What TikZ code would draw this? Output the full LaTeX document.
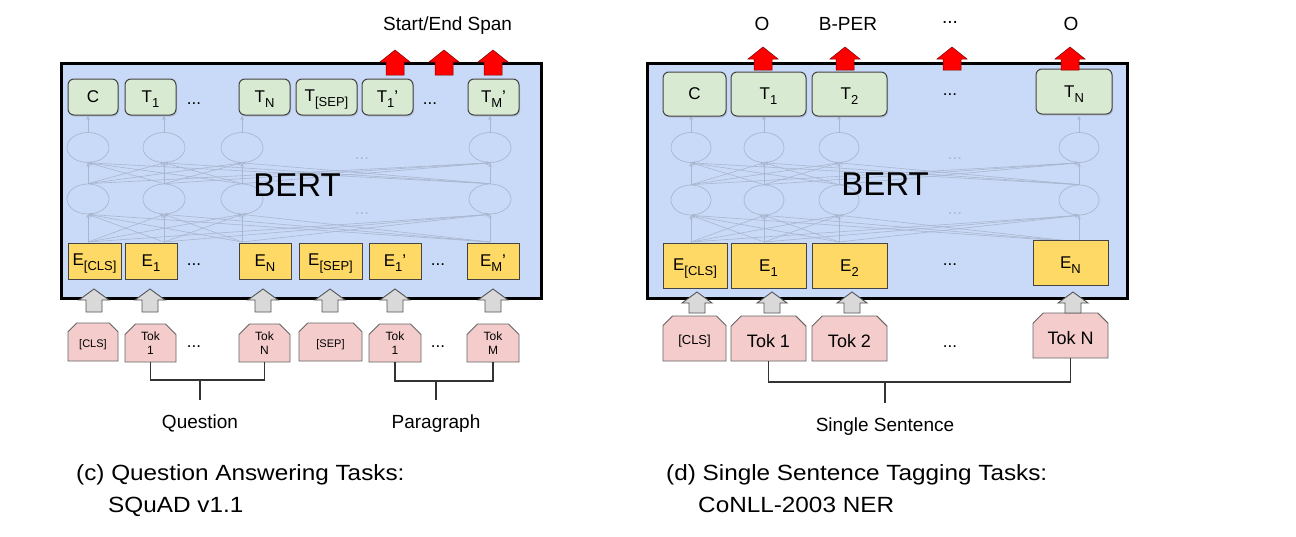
\documentclass[tikz,border=0pt]{standalone}
\usepackage{fontspec}
\setmainfont{Liberation Sans}
\usetikzlibrary{shapes.misc,shapes.geometric,arrows.meta,shadows}
\definecolor{bertblue}{HTML}{C9DAF8}
\definecolor{tgreen}{HTML}{D9EAD3}
\definecolor{eyellow}{HTML}{FFD966}
\definecolor{tpink}{HTML}{F4CCCC}
\definecolor{agray}{HTML}{D9D9D9}
\definecolor{outl}{HTML}{434343}
\definecolor{pinkline}{HTML}{666666}
\definecolor{garline}{HTML}{555555}
\definecolor{faint}{HTML}{A9B6CF}
\definecolor{brline}{HTML}{333333}
\definecolor{darkred}{HTML}{7A0000}
\newcommand\fsz[1]{\fontsize{#1}{#1}\selectfont}
\newcommand\sbs[1]{\raisebox{-5pt}[\height][\depth]{\fsz{13}#1}}
\newcommand\lowtxt[1]{\raisebox{-3pt}[\height][\depth]{#1}}
\newcommand\capt[1]{\scalebox{1.105}[1]{#1}}
\newcommand\uparr[7]{\draw[#1] ({#2-#7},#5) -- ({#2-#7},#4) -- ({#2-#6},#4) -- (#2,#3) -- ({#2+#6},#4) -- ({#2+#7},#4) -- ({#2+#7},#5) -- cycle;}
\tikzset{
  bertbox/.style={draw=black, line width=3pt, fill=bertblue, inner sep=0pt},
  tbox/.style={draw=outl, line width=1pt, fill=tgreen, rounded corners=6pt, inner sep=0pt, font=\fsz{17},
    drop shadow={shadow xshift=1pt, shadow yshift=-1.5pt, opacity=.3}},
  ebox/.style={draw=outl, line width=0.9pt, fill=eyellow, inner sep=0pt, font=\fsz{17}},
  tokbox/.style={chamfered rectangle, chamfered rectangle corners={north west,north east},
    chamfered rectangle xsep=7pt, draw=pinkline, line width=0.9pt, fill=tpink, inner sep=0pt, align=center},
  smalltok/.style={font=\fontsize{12}{14}\selectfont},
  netnode/.style={ellipse, draw=faint, line width=0.7pt, minimum width=42pt, minimum height=30pt, inner sep=0pt},
  netline/.style={draw=faint, line width=0.6pt, -{Stealth[length=4pt,width=3.5pt]}},
  rowdots/.style={font=\fsz{17}, anchor=base},
  faintdots/.style={text=faint, font=\fsz{17}, anchor=base},
  garrow/.style={fill=agray, draw=garline, line width=0.9pt},
  rarrow/.style={fill=red, draw=darkred, line width=0.5pt},
  bracket/.style={draw=brline, line width=1.2pt},
  toplabel/.style={font=\fsz{19}, anchor=base},
  caption/.style={font=\fsz{22}, anchor=base west, inner sep=0pt},
  bertlabel/.style={font=\fsz{33}, anchor=base}
}
\begin{document}
\begin{tikzpicture}[x=1pt,y=-1pt]
\useasboundingbox (0,0) rectangle (1296,536);
\fill[white] (0,0) rectangle (1296,536);

% ================= LEFT PANEL =================
\node[bertbox, minimum width=480pt, minimum height=235pt] (bertL) at (301,180.5) {};
\foreach \c [count=\i] in {88,164,242,490} {
  \node[netnode] (La\i) at (\c,147.5) {};
  \node[netnode] (Lb\i) at (\c,199) {};
  \coordinate (Lc\i) at (\c,242);
  \coordinate (Ld\i) at (\c,116);
}
\foreach \i in {1,...,4} {
  \draw[netline] (La\i.north) -- (Ld\i);
  \foreach \j in {1,...,4} {
    \draw[netline] (Lb\i.north) -- (La\j.south);
    \draw[netline] (Lc\i) -- (Lb\j.south);
  }
}
\node[faintdots] (Lfd1) at (362,159) {...};
\node[faintdots] (Lfd2) at (362,214) {...};
\node[bertlabel] (bertLtext) at (297,196) {BERT};

\node[tbox, minimum width=50pt, minimum height=36pt] (tL0) at (93,97) {C};
\node[tbox, minimum width=51pt, minimum height=36pt] (tL1) at (150.5,97) {T\sbs{1}};
\node[rowdots] (tLd1) at (194,104) {...};
\node[tbox, minimum width=51pt, minimum height=36pt] (tLN) at (264.5,97) {T\sbs{N}};
\node[tbox, minimum width=61pt, minimum height=36pt] (tLS) at (326.5,97) {T\sbs{[SEP]}};
\node[tbox, minimum width=51pt, minimum height=36pt] (tLp1) at (387.5,97) {T\sbs{1}’};
\node[rowdots] (tLd2) at (430,104) {...};
\node[tbox, minimum width=51pt, minimum height=36pt] (tLpM) at (493.5,97) {T\sbs{M}’};

\node[ebox, minimum width=53pt, minimum height=36pt] (eL0) at (94.5,261) {E\sbs{[CLS]}};
\node[ebox, minimum width=52pt, minimum height=36pt] (eL1) at (151,261) {E\sbs{1}};
\node[rowdots] (eLd1) at (194,265) {...};
\node[ebox, minimum width=52pt, minimum height=36pt] (eLN) at (265,261) {E\sbs{N}};
\node[ebox, minimum width=63pt, minimum height=36pt] (eLS) at (330.5,261) {E\sbs{[SEP]}};
\node[ebox, minimum width=52pt, minimum height=36pt] (eLp1) at (395,261) {E\sbs{1}’};
\node[rowdots] (eLd2) at (438,265) {...};
\node[ebox, minimum width=52pt, minimum height=36pt] (eLpM) at (493,261) {E\sbs{M}’};

\node[tokbox, smalltok, minimum width=50pt, minimum height=38pt, font=\fsz{11}] (kL0) at (93,342) {\lowtxt{[CLS]}};
\node[tokbox, smalltok, minimum width=51pt, minimum height=38pt] (kL1) at (150.5,343) {Tok\\1};
\node[rowdots] (kLd1) at (194,347) {...};
\node[tokbox, smalltok, minimum width=51pt, minimum height=38pt] (kLN) at (264.5,343) {Tok\\N};
\node[tokbox, smalltok, minimum width=63pt, minimum height=38pt, font=\fsz{11}] (kLS) at (330.5,342) {\lowtxt{[SEP]}};
\node[tokbox, smalltok, minimum width=52pt, minimum height=38pt] (kLp1) at (395,343) {Tok\\1};
\node[rowdots] (kLd2) at (438,347) {...};
\node[tokbox, smalltok, minimum width=52pt, minimum height=38pt] (kLpM) at (493,343) {Tok\\M};

\foreach \x in {94,150,263,330,395,493} { \uparr{garrow}{\x}{289}{300}{312}{15}{8} }
\foreach \x in {395,444,493} { \uparr{rarrow}{\x}{50}{62}{75}{15}{9} }

\node[toplabel, anchor=base west, inner sep=0pt] (spanlab) at (383,30) {Start/End Span};

\coordinate (qmid) at (200,380);
\coordinate (qstem) at (200,400);
\draw[bracket] (kL1.south) |- (qmid) -| (kLN.south);
\draw[bracket] (qmid) -- (qstem);
\node[toplabel] (question) at (200,428) {Question};

\coordinate (pmid) at (436,381);
\coordinate (pstem) at (436,400);
\draw[bracket] (kLp1.south) |- (pmid) -| (kLpM.south);
\draw[bracket] (pmid) -- (pstem);
\node[toplabel] (paragraph) at (436,428) {Paragraph};

\node[caption] (capc1) at (76,480) {\capt{(c) Question Answering Tasks:}};
\node[caption] (capc2) at (108,512) {\capt{SQuAD v1.1}};

% ================= RIGHT PANEL =================
\node[bertbox, minimum width=480pt, minimum height=235pt] (bertR) at (887,180.5) {};
\foreach \c [count=\i] in {691,764,839,1079} {
  \node[netnode, minimum width=40pt] (Ra\i) at (\c,147.5) {};
  \node[netnode, minimum width=40pt] (Rb\i) at (\c,200) {};
  \coordinate (Rc\i) at (\c,242);
  \coordinate (Rd\i) at (\c,116);
}
\foreach \i in {1,...,4} {
  \draw[netline] (Ra\i.north) -- (Rd\i);
  \foreach \j in {1,...,4} {
    \draw[netline] (Rb\i.north) -- (Ra\j.south);
    \draw[netline] (Rc\i) -- (Rb\j.south);
  }
}
\node[faintdots] (Rfd1) at (955,159) {...};
\node[faintdots] (Rfd2) at (955,214) {...};
\node[bertlabel] (bertRtext) at (885,195) {BERT};

\node[tbox, minimum width=63pt, minimum height=44pt] (tR0) at (694.5,94) {C};
\node[tbox, minimum width=75pt, minimum height=44pt] (tR1) at (768.5,94) {T\sbs{1}};
\node[tbox, minimum width=75pt, minimum height=44pt] (tR2) at (849.5,94) {T\sbs{2}};
\node[rowdots] (tRd) at (950,95) {...};
\node[tbox, minimum width=76pt, minimum height=45pt] (tRN) at (1074,91.5) {T\sbs{N}};

\node[ebox, minimum width=64pt, minimum height=45pt] (eR0) at (695,265.5) {E\sbs{[CLS]}};
\node[ebox, minimum width=75pt, minimum height=45pt] (eR1) at (768.5,265.5) {E\sbs{1}};
\node[ebox, minimum width=75pt, minimum height=45pt] (eR2) at (849.5,265.5) {E\sbs{2}};
\node[rowdots] (eRd) at (950,265) {...};
\node[ebox, minimum width=75pt, minimum height=45pt] (eRN) at (1070.5,262.5) {E\sbs{N}};

\node[tokbox, minimum width=63pt, minimum height=45pt, font=\fsz{13}] (kR0) at (694.5,338.5) {\lowtxt{[CLS]}};
\node[tokbox, minimum width=75pt, minimum height=45pt, font=\fsz{18}] (kR1) at (768.5,338.5) {\lowtxt{Tok 1}};
\node[tokbox, minimum width=75pt, minimum height=45pt, font=\fsz{18}] (kR2) at (849.5,338.5) {\lowtxt{Tok 2}};
\node[rowdots] (kRd) at (950,347) {...};
\node[tokbox, minimum width=75pt, minimum height=45pt, font=\fsz{18}] (kRN) at (1070.5,335.5) {\lowtxt{Tok N}};

\foreach \x in {697,772,852,1073} { \uparr{garrow}{\x}{292}{303}{313}{15}{8} }
\foreach \x in {763,845,952,1070} { \uparr{rarrow}{\x}{47}{59}{70}{15}{9} }

\node[toplabel] (labO1) at (762,30) {O};
\node[toplabel] (labB) at (848,30) {B-PER};
\node[toplabel] (labD) at (950,23) {...};
\node[toplabel] (labO2) at (1071,30) {O};

\coordinate (smid) at (885,382);
\coordinate (sstem) at (885,403);
\draw[bracket] (kR1.south) |- (smid) -| (kRN.south);
\draw[bracket] (smid) -- (sstem);
\node[toplabel] (single) at (885,431) {Single Sentence};

\node[caption] (capd1) at (666,480) {\capt{(d) Single Sentence Tagging Tasks:}};
\node[caption] (capd2) at (698,512) {\capt{CoNLL-2003 NER}};
\end{tikzpicture}
\end{document}
